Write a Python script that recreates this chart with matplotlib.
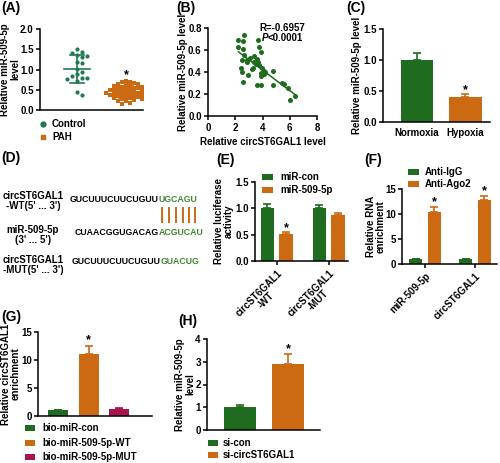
import numpy as np
import matplotlib
matplotlib.use('Agg')
import matplotlib.pyplot as plt
from matplotlib.patches import Rectangle
from matplotlib.lines import Line2D
from matplotlib.text import Annotation

plt.rcParams['font.family'] = ['Liberation Sans', 'DejaVu Sans']
plt.rcParams['font.weight'] = 'bold'
plt.rcParams['axes.labelweight'] = 'bold'
plt.rcParams['font.size'] = 7
plt.rcParams['axes.linewidth'] = 1.1
plt.rcParams['xtick.major.width'] = 1.1
plt.rcParams['ytick.major.width'] = 1.1
plt.rcParams['xtick.major.size'] = 3
plt.rcParams['ytick.major.size'] = 3
plt.rcParams['xtick.major.pad'] = 2
plt.rcParams['ytick.major.pad'] = 1.5

# ---------------- data ----------------
a_groups = ['Control', 'PAH']
a_control = [1.50, 1.43, 1.40, 1.36, 1.33, 1.30, 1.18, 1.15, 1.02, 0.95, 0.88,
             0.85, 0.80, 0.78, 0.76, 0.72, 0.45, 0.38]
a_pah = [0.72, 0.70, 0.68, 0.66, 0.65, 0.64, 0.62, 0.60, 0.60, 0.58, 0.57, 0.55,
         0.55, 0.54, 0.52, 0.50, 0.50, 0.49, 0.48, 0.47, 0.46, 0.45, 0.44, 0.43,
         0.42, 0.41, 0.40, 0.39, 0.38, 0.37, 0.36, 0.35, 0.34, 0.33, 0.32, 0.31,
         0.30, 0.29, 0.28, 0.27, 0.25, 0.23, 0.21, 0.18, 0.15]

b_circ = [2.67, 2.23, 2.55, 3.65, 2.23, 2.55, 3.77, 3.90, 2.67, 2.50, 2.85, 3.09,
          3.40, 3.60, 3.40, 3.70, 3.55, 3.77, 3.95, 3.33, 3.21, 4.10, 3.90, 4.75,
          2.45, 2.50, 2.96, 4.10, 3.90, 2.60, 3.60, 3.90, 4.75, 5.42, 5.55, 5.90,
          6.35, 6.03, 4.20, 2.85]
b_mir = [0.736, 0.69, 0.68, 0.69, 0.63, 0.61, 0.63, 0.585, 0.55, 0.51, 0.51, 0.525,
         0.545, 0.52, 0.49, 0.49, 0.47, 0.465, 0.44, 0.44, 0.43, 0.405, 0.39, 0.41,
         0.44, 0.40, 0.37, 0.38, 0.36, 0.31, 0.28, 0.28, 0.28, 0.30, 0.29, 0.25,
         0.18, 0.145, 0.40, 0.49]
b_r_text = 'R=-0.6957'
b_p_text = '<0.0001'

c_cats = ['Normoxia', 'Hypoxia']
c_vals = [1.0, 0.40]
c_err = [0.12, 0.05]

d_labels = ["circST6GAL1\n-WT(5' ... 3')", "miR-509-5p\n(3' ... 5')", "circST6GAL1\n-MUT(5' ... 3')"]
d_seq_black = ['GUCUUUCUUCUGUU', 'CUAACGGUGACAG', 'GUCUUUCUUCUGUU']
d_seq_green = ['UGCAGU', 'ACGUCAU', 'GUACUG']

e_cats = ['circST6GAL1\n-WT', 'circST6GAL1\n-MUT']
e_series = ['miR-con', 'miR-509-5p']
e_con = [1.0, 1.0]
e_con_err = [0.08, 0.07]
e_mir = [0.52, 0.87]
e_mir_err = [0.04, 0.04]

f_cats = ['miR-509-5p', 'circST6GAL1']
f_series = ['Anti-IgG', 'Anti-Ago2']
f_igg = [1.0, 1.0]
f_igg_err = [0.1, 0.1]
f_ago = [10.5, 12.8]
f_ago_err = [1.0, 0.9]

g_series = ['bio-miR-con', 'bio-miR-509-5p-WT', 'bio-miR-509-5p-MUT']
g_vals = [1.0, 11.0, 1.2]
g_err = [0.12, 1.5, 0.15]

h_series = ['si-con', 'si-circST6GAL1']
h_vals = [1.0, 2.9]
h_err = [0.1, 0.45]

# ---------------- style ----------------
GREEN = '#1f6b1f'
TEAL = '#1f7a50'
ORANGE = '#cc6a14'
MAGENTA = '#a8144e'
SEQGREEN = '#3c8a2c'

W, H = 500, 463
fig = plt.figure(figsize=(W / 100, H / 100), dpi=100)


def px_axes(x0, y0, x1, y1):
    ax = fig.add_axes([x0 / W, 1 - y1 / H, (x1 - x0) / W, (y1 - y0) / H])
    ax.spines[['top', 'right']].set_visible(False)
    ax._px = (x0, x1)
    return ax


def ylabel_px(ax, text, x_right):
    ax.set_ylabel(text, fontsize=7, linespacing=1.0)
    x0, x1 = ax._px
    ax.yaxis.set_label_coords((x_right - x0) / (x1 - x0), 0.5)


def ftext(x, y, s, **kw):
    return fig.text(x / W, 1 - y / H, s, **kw)


def panel_label(x, y, s):
    ftext(x, y, s, fontsize=10, fontweight='bold', va='center', ha='left')


def legend_px(items, x_patch, x_text, ys, pw=11, ph=6):
    for (label, color, mk), y in zip(items, ys):
        if mk is None:
            fig.patches.append(Rectangle((x_patch / W, 1 - (y + ph / 2) / H), pw / W, ph / H,
                                         transform=fig.transFigure, facecolor=color,
                                         edgecolor='none'))
        else:
            fig.lines.append(Line2D([(x_patch + pw / 2) / W], [1 - y / H], marker=mk,
                                    color=color, markersize=3.5, linestyle='none',
                                    transform=fig.transFigure))
        ftext(x_text, y, label, fontsize=7, fontweight='bold', va='center', ha='left')


def swarm_offsets(vals, ppu_y, d):
    vals = np.asarray(vals, float)
    ys = vals * ppu_y
    placed = []
    offs = np.zeros(len(vals))
    for i in range(len(vals)):
        cand = 0.0
        for k in range(200):
            cand = ((k + 1) // 2) * (d / 2.0) * (1 if k % 2 else -1)
            if all((cand - px) ** 2 + (ys[i] - py) ** 2 >= d * d for px, py in placed):
                break
        placed.append((cand, ys[i]))
        offs[i] = cand
    return offs


def bar_err(ax, x, vals, errs, color, width):
    errs = np.asarray(errs, float)
    ax.bar(x, vals, width=width, color=color, edgecolor='none', zorder=2)
    ax.errorbar(x, vals, yerr=[np.zeros_like(errs), errs], fmt='none', ecolor=color,
                elinewidth=1.2, capsize=3, capthick=1.2, zorder=1)


# ---------------- (A) ----------------
axA = px_axes(40, 29, 143, 110)
ppu_x, ppu_y = 49.0, 40.5
off_c = swarm_offsets(a_control, ppu_y, 5.0) / ppu_x
off_p = swarm_offsets(a_pah, ppu_y, 4.0) / ppu_x
axA.scatter(0 + off_c, a_control, s=9, marker='o', color=TEAL, linewidths=0, zorder=3)
axA.scatter(1 + off_p, a_pah, s=9, marker='s', color=ORANGE, linewidths=0, zorder=3)
for xi, vals, col in [(0, a_control, TEAL), (1, a_pah, ORANGE)]:
    m, sd = np.mean(vals), np.std(vals, ddof=1)
    axA.plot([xi - 0.27, xi + 0.27], [m, m], color=col, lw=1.2, zorder=4)
    axA.plot([xi, xi], [m - sd, m + sd], color=col, lw=1.2, zorder=4)
    for yy in (m - sd, m + sd):
        axA.plot([xi - 0.14, xi + 0.14], [yy, yy], color=col, lw=1.2, zorder=4)
axA.text(1, 0.86, '*', ha='center', va='center', fontsize=9, fontweight='bold')
axA.set_xlim(-37 / 49, 1 + 17 / 49)
axA.set_ylim(0, 2.0)
axA.set_xticks([])
axA.set_yticks([0, 0.5, 1.0, 1.5, 2.0])
axA.set_yticklabels(['%.1f' % v for v in [0, 0.5, 1.0, 1.5, 2.0]], fontweight='bold')
ylabel_px(axA, 'Relative miR-509-5p\nlevel', 20.5)
legend_px([(a_groups[0], TEAL, 'o'), (a_groups[1], ORANGE, 's')], 37, 52, [124, 137], pw=11)
panel_label(1, 8, '(A)')

# ---------------- (B) ----------------
axB = px_axes(208, 28, 317, 116)
axB.scatter(b_circ, b_mir, s=13, color=GREEN, linewidths=0, zorder=3)
k, b0 = np.polyfit(b_circ, b_mir, 1)
xx = np.array([min(b_circ), max(b_circ)])
axB.plot(xx, k * xx + b0, color=GREEN, lw=1.1, zorder=2)
axB.set_xlim(0, 8)
axB.set_ylim(0, 0.8)
axB.set_xticks([0, 2, 4, 6, 8])
axB.set_xticklabels(['0', '2', '4', '6', '8'], fontweight='bold')
axB.set_yticks([0, 0.2, 0.4, 0.6, 0.8])
axB.set_yticklabels(['%.1f' % v for v in [0, 0.2, 0.4, 0.6, 0.8]], fontweight='bold')
axB.set_xlabel('Relative circST6GAL1 level', fontsize=7, labelpad=3)
ylabel_px(axB, 'Relative miR-509-5p level', 188)
axB.text(0.47, 1.0, b_r_text, transform=axB.transAxes, fontsize=7, fontweight='bold',
         ha='left', va='center')
tP = axB.text(0.49, 0.89, 'P', transform=axB.transAxes, fontsize=7, fontweight='bold',
              fontstyle='italic', ha='left', va='center')
axB.annotate(b_p_text, xy=(1, 0.5), xycoords=tP, fontsize=7, fontweight='bold',
             ha='left', va='center')
panel_label(176, 8, '(B)')

# ---------------- (C) ----------------
axC = px_axes(383, 29, 490, 122)
for i, col in enumerate([GREEN, ORANGE]):
    bar_err(axC, [i], [c_vals[i]], [c_err[i]], col, 0.66)
axC.text(1, c_vals[1] + c_err[1] + 0.06, '*', ha='center', va='center', fontsize=9,
         fontweight='bold')
axC.set_xlim(-0.70, 1.505)
axC.set_ylim(0, 1.5)
axC.set_xticks([0, 1])
axC.set_xticklabels(c_cats, fontweight='bold')
axC.tick_params(axis='x', length=0, pad=4)
axC.set_yticks([0, 0.5, 1.0, 1.5])
axC.set_yticklabels(['%.1f' % v for v in [0, 0.5, 1.0, 1.5]], fontweight='bold')
ylabel_px(axC, 'Relative miR-509-5p level', 362)
panel_label(346, 8, '(C)')

# ---------------- (D) ----------------
panel_label(1, 158, '(D)')
lab_y = [201, 235, 265]
seq_x = [70, 75, 72]
seq_y = [199, 233, 262]
for lab, ly in zip(d_labels, lab_y):
    ftext(33, ly, lab, fontsize=7, fontweight='bold', ha='center', va='center',
          multialignment='center', linespacing=1.05)
for sb, sg, sx, sy in zip(d_seq_black, d_seq_green, seq_x, seq_y):
    t = ftext(sx, sy, sb, fontsize=6.3, fontweight='bold', ha='left', va='center')
    ann = Annotation(sg, xy=(1, 0.5), xycoords=t, va='center', ha='left',
                     fontsize=6.3, fontweight='bold', color=SEQGREEN)
    fig.add_artist(ann)
for lx in [162, 169, 176, 183, 189, 195]:
    fig.add_artist(Line2D([lx / W, lx / W], [1 - 208 / H, 1 - 222 / H], color=ORANGE,
                          lw=1.4, transform=fig.transFigure))

# ---------------- (E) ----------------
axE = px_axes(255, 182, 348, 261)
xg = np.arange(len(e_cats))
bw, off = 0.26, 0.18
bar_err(axE, xg - off, e_con, e_con_err, GREEN, bw)
bar_err(axE, xg + off, e_mir, e_mir_err, ORANGE, bw)
axE.text(0 + off, e_mir[0] + e_mir_err[0] + 0.07, '*', ha='center', va='center', fontsize=9,
         fontweight='bold')
axE.set_xlim(-0.42, 1.37)
axE.set_ylim(0, 1.5)
axE.set_xticks(xg)
axE.set_xticklabels(e_cats, rotation=45, ha='right', va='top', rotation_mode='anchor',
                    multialignment='center', fontweight='bold', linespacing=1.0)
axE.set_yticks([0, 0.5, 1.0, 1.5])
axE.set_yticklabels(['%.1f' % v for v in [0, 0.5, 1.0, 1.5]], fontweight='bold')
ylabel_px(axE, 'Relative luciferase\nactivity', 234)
legend_px([(e_series[0], GREEN, None), (e_series[1], ORANGE, None)], 262, 280, [177, 190])
panel_label(216, 160, '(E)')

# ---------------- (F) ----------------
axF = px_axes(402, 189, 497, 264)
xg = np.arange(len(f_cats))
bw, off = 0.25, 0.186
bar_err(axF, xg - off, f_igg, f_igg_err, GREEN, bw)
bar_err(axF, xg + off, f_ago, f_ago_err, ORANGE, bw)
for i in range(len(f_cats)):
    axF.text(i + off, f_ago[i] + f_ago_err[i] + 0.9, '*', ha='center', va='center', fontsize=9,
             fontweight='bold')
axF.set_xlim(-0.46, 1.44)
axF.set_ylim(0, 15)
axF.set_xticks(xg)
axF.set_xticklabels(f_cats, rotation=45, ha='right', va='top', rotation_mode='anchor',
                    fontweight='bold')
axF.set_yticks([0, 5, 10, 15])
axF.set_yticklabels(['0', '5', '10', '15'], fontweight='bold')
ylabel_px(axF, 'Relative RNA\nenrichment', 386)
legend_px([(f_series[0], GREEN, None), (f_series[1], ORANGE, None)], 408, 425, [172, 184])
panel_label(364, 160, '(F)')

# ---------------- (G) ----------------
axG = px_axes(38, 332, 152, 416)
xg = np.arange(len(g_series))
for i, col in enumerate([GREEN, ORANGE, MAGENTA]):
    bar_err(axG, [xg[i]], [g_vals[i]], [g_err[i]], col, 0.66)
axG.text(1, g_vals[1] + g_err[1] + 1.1, '*', ha='center', va='center', fontsize=9,
         fontweight='bold')
axG.set_xlim(-0.66, 3.08)
axG.set_ylim(0, 15)
axG.set_xticks([])
axG.set_yticks([0, 5, 10, 15])
axG.set_yticklabels(['0', '5', '10', '15'], fontweight='bold')
ylabel_px(axG, 'Relative circST6GAL1\nenrichment', 21)
legend_px([(g_series[0], GREEN, None), (g_series[1], ORANGE, None), (g_series[2], MAGENTA, None)],
          25, 42, [428, 443, 457], pw=10)
panel_label(1, 317, '(G)')

# ---------------- (H) ----------------
axH = px_axes(207, 339, 320, 430)
xg = np.arange(len(h_series))
for i, col in enumerate([GREEN, ORANGE]):
    bar_err(axH, [xg[i]], [h_vals[i]], [h_err[i]], col, 0.66)
axH.text(1, h_vals[1] + h_err[1] + 0.22, '*', ha='center', va='center', fontsize=9,
         fontweight='bold')
axH.set_xlim(-0.68, 1.65)
axH.set_ylim(0, 4)
axH.set_xticks([])
axH.set_yticks([0, 1, 2, 3, 4])
axH.set_yticklabels(['0', '1', '2', '3', '4'], fontweight='bold')
ylabel_px(axH, 'Relative miR-509-5p\nlevel', 195)
legend_px([(h_series[0], GREEN, None), (h_series[1], ORANGE, None)], 208, 223, [443, 455], pw=10)
panel_label(178, 321, '(H)')

fig.savefig('out.png', dpi=100)
